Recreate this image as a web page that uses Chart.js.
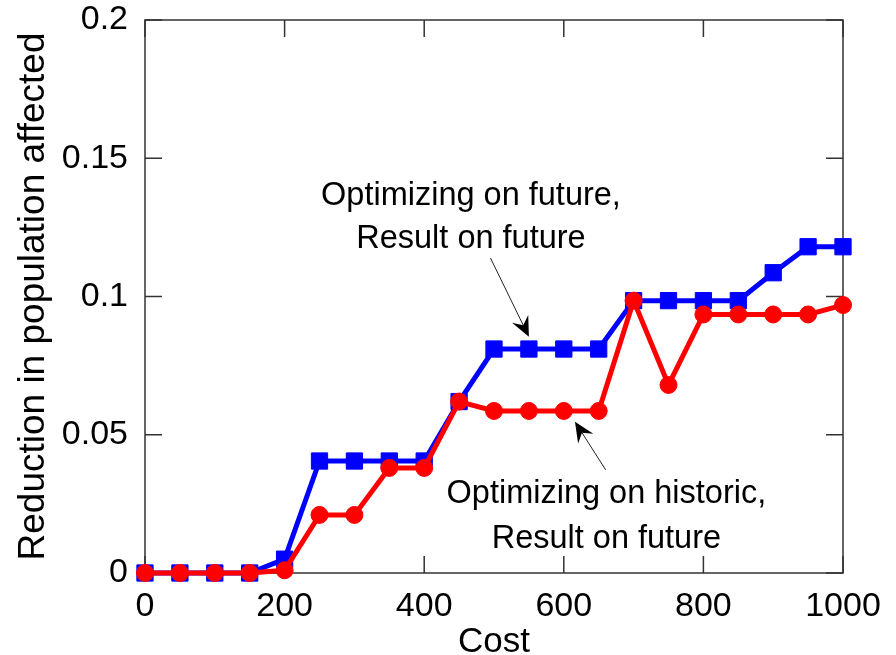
<!DOCTYPE html>
<html>
<head>
<meta charset="utf-8">
<script src="https://cdn.jsdelivr.net/npm/chart.js@4/dist/chart.umd.min.js"></script>
<style>
  html, body { margin: 0; padding: 0; background: #fff; }
  #wrap { width: 896px; height: 655px; }
</style>
</head>
<body>
<div id="wrap"><canvas id="c" width="896" height="655"></canvas></div>
<script>
// Budget levels (x) and the two outcome series
const costs = [0, 50, 100, 150, 200, 250, 300, 350, 400, 450, 500,
               550, 600, 650, 700, 750, 800, 850, 900, 950, 1000];
const futureOnFuture = [0, 0, 0, 0, 0.005, 0.0405, 0.0405, 0.0405, 0.0405, 0.062, 0.081,
                        0.081, 0.081, 0.081, 0.0985, 0.0985, 0.0985, 0.0985, 0.1086, 0.118, 0.118];
const historicOnFuture = [0, 0, 0, 0, 0.001, 0.021, 0.021, 0.038, 0.038, 0.062, 0.0586,
                          0.0586, 0.0586, 0.0586, 0.0985, 0.068, 0.0935, 0.0935, 0.0935, 0.0935, 0.0969];

const xTickValues = [0, 200, 400, 600, 800, 1000];
const xTickLabels = ['0', '200', '400', '600', '800', '1000'];
const yTickValues = [0, 0.05, 0.1, 0.15, 0.2];
const yTickLabels = ['0', '0.05', '0.1', '0.15', '0.2'];

// Callout text and arrow endpoints, in data units
const callouts = [
  { lines: ['Optimizing on future,', 'Result on future'], x: 467, y: [0.1331, 0.1175],
    from: [495, 0.1139], to: [550, 0.0854] },
  { lines: ['Optimizing on historic,', 'Result on future'], x: 661, y: [0.0253, 0.0090],
    from: [660, 0.0373], to: [616, 0.0547] }
];

const FONT = '"Liberation Sans", Arial, Helvetica, sans-serif';

function toPoints(values) {
  return costs.map((c, i) => ({ x: c, y: values[i] }));
}

// Axes box with inward tick marks on all four sides
const framePlugin = {
  id: 'frame',
  beforeDatasetsDraw(chart) {
    const { ctx, chartArea: a, scales: { x, y } } = chart;
    const len = 17;
    ctx.save();
    ctx.strokeStyle = '#333';
    ctx.lineWidth = 1.5;
    ctx.strokeRect(a.left, a.top, a.right - a.left, a.bottom - a.top);
    ctx.beginPath();
    xTickValues.forEach(v => {
      const px = x.getPixelForValue(v);
      ctx.moveTo(px, a.bottom); ctx.lineTo(px, a.bottom - len);
      ctx.moveTo(px, a.top); ctx.lineTo(px, a.top + len);
    });
    yTickValues.forEach(v => {
      const py = y.getPixelForValue(v);
      ctx.moveTo(a.left, py); ctx.lineTo(a.left + len, py);
      ctx.moveTo(a.right, py); ctx.lineTo(a.right - len, py);
    });
    ctx.stroke();
    ctx.restore();
  }
};

// Text callouts with thin arrows pointing at the curves
const calloutPlugin = {
  id: 'callouts',
  afterDraw(chart) {
    const { ctx, scales: { x, y } } = chart;
    ctx.save();
    ctx.fillStyle = '#000';
    ctx.font = '32.5px ' + FONT;
    ctx.textAlign = 'center';
    ctx.textBaseline = 'alphabetic';
    callouts.forEach(c => {
      c.lines.forEach((t, i) => ctx.fillText(t, x.getPixelForValue(c.x), y.getPixelForValue(c.y[i])));
      const x0 = x.getPixelForValue(c.from[0]), y0 = y.getPixelForValue(c.from[1]);
      const x1 = x.getPixelForValue(c.to[0]), y1 = y.getPixelForValue(c.to[1]);
      const ang = Math.atan2(y1 - y0, x1 - x0);
      const headLen = 20, headW = 9, notch = 13;
      ctx.strokeStyle = '#222';
      ctx.lineWidth = 1;
      ctx.beginPath();
      ctx.moveTo(x0, y0);
      ctx.lineTo(x1 - Math.cos(ang) * notch, y1 - Math.sin(ang) * notch);
      ctx.stroke();
      const bx = x1 - Math.cos(ang) * headLen, by = y1 - Math.sin(ang) * headLen;
      const nx = -Math.sin(ang), ny = Math.cos(ang);
      ctx.beginPath();
      ctx.moveTo(x1, y1);
      ctx.lineTo(bx + nx * headW, by + ny * headW);
      ctx.lineTo(x1 - Math.cos(ang) * notch, y1 - Math.sin(ang) * notch);
      ctx.lineTo(bx - nx * headW, by - ny * headW);
      ctx.closePath();
      ctx.fillStyle = '#000';
      ctx.fill();
    });
    ctx.restore();
  }
};

new Chart(document.getElementById('c'), {
  type: 'line',
  data: {
    datasets: [
      {
        label: 'Optimizing on future, Result on future',
        data: toPoints(futureOnFuture),
        borderColor: '#0000ff',
        backgroundColor: '#0000ff',
        borderWidth: 5,
        pointStyle: 'rect',
        pointRadius: 11.5,
        pointBorderWidth: 1,
        tension: 0,
        clip: false,
        order: 1
      },
      {
        label: 'Optimizing on historic, Result on future',
        data: toPoints(historicOnFuture),
        borderColor: '#ff0000',
        backgroundColor: '#ff0000',
        borderWidth: 5,
        pointStyle: 'circle',
        pointRadius: 8.5,
        pointBorderWidth: 1,
        tension: 0,
        clip: false,
        order: 0
      }
    ]
  },
  options: {
    responsive: false,
    animation: false,
    devicePixelRatio: 1,
    layout: { padding: { top: 20, right: 53, left: 0, bottom: 0 } },
    plugins: { legend: { display: false }, tooltip: { enabled: false } },
    scales: {
      x: {
        type: 'linear',
        min: 0, max: 1000,
        afterBuildTicks(s) { s.ticks = xTickValues.map(v => ({ value: v })); },
        afterFit(s) { s.height = 82; s.paddingLeft = 0; s.paddingRight = 0; },
        grid: { display: false },
        border: { display: false },
        ticks: { color: '#000', font: { family: FONT, size: 34 }, padding: 5, maxRotation: 0,
                 callback: (v, i) => xTickLabels[i] },
        title: { display: true, text: 'Cost', color: '#000',
                 font: { family: FONT, size: 35, lineHeight: 0.72 }, padding: 0 }
      },
      y: {
        type: 'linear',
        min: 0, max: 0.2,
        afterBuildTicks(s) { s.ticks = yTickValues.map(v => ({ value: v })); },
        afterFit(s) { s.width = 145; s.paddingTop = 0; s.paddingBottom = 0; },
        grid: { display: false },
        border: { display: false },
        ticks: { color: '#000', font: { family: FONT, size: 34 }, padding: 9,
                 callback: (v, i) => yTickLabels[i] },
        title: { display: true, text: 'Reduction in population affected', color: '#000',
                 font: { family: FONT, size: 37, lineHeight: 1 }, padding: { top: 15, bottom: 0 } }
      }
    }
  },
  plugins: [framePlugin, calloutPlugin]
});
</script>
</body>
</html>
